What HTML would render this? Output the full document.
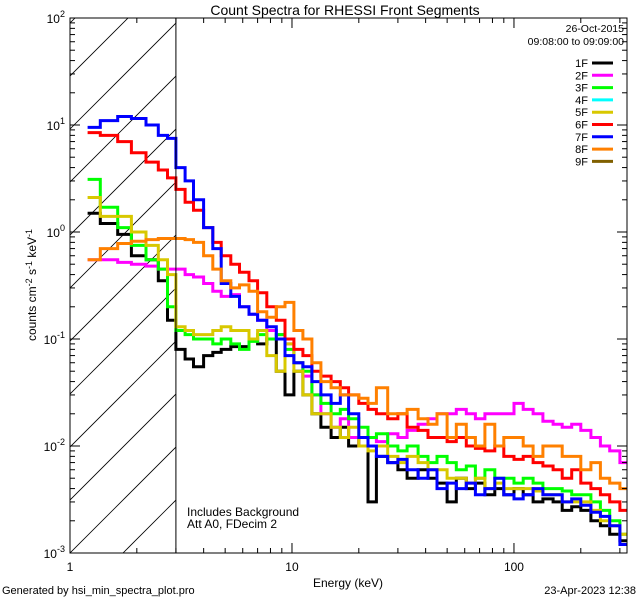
<!DOCTYPE html>
<html><head><meta charset="utf-8"><style>
body{margin:0;background:#fff;}
svg{display:block;font-family:"Liberation Sans",sans-serif;}
</style></head><body>
<svg id="chart" width="640" height="600">
<defs>
<clipPath id="hclip"><rect x="70" y="18" width="106" height="535"/></clipPath>
<clipPath id="pclip"><rect x="70" y="18" width="557" height="535"/></clipPath>
</defs>
<text x="345" y="15" font-size="14" text-anchor="middle">Count Spectra for RHESSI Front Segments</text>
<g id="hatch" clip-path="url(#hclip)"></g>
<g id="series" clip-path="url(#pclip)"></g>
<g id="axes"></g>
<text x="624" y="32" font-size="10.5" text-anchor="end">26-Oct-2015</text>
<text x="624" y="45" font-size="10.5" text-anchor="end">09:08:00 to 09:09:00</text>
<g id="legend"></g>
<text x="187" y="516" font-size="12">Includes Background</text>
<text x="187" y="528" font-size="12">Att A0, FDecim 2</text>
<text x="348" y="587" font-size="12" text-anchor="middle">Energy (keV)</text>
<text transform="translate(36,285) rotate(-90)" font-size="12" text-anchor="middle">counts cm<tspan dy="-4" font-size="9">-2</tspan><tspan dy="4"> s</tspan><tspan dy="-4" font-size="9">-1</tspan><tspan dy="4"> keV</tspan><tspan dy="-4" font-size="9">-1</tspan></text>
<text x="2" y="594" font-size="11">Generated by hsi_min_spectra_plot.pro</text>
<text x="636" y="594" font-size="11" text-anchor="end">23-Apr-2023 12:38</text>
</svg>
<script>
const edges=[1.2,1.37,1.64,1.89,2.2,2.5,2.75,3.0,3.3,3.6,4.0,4.4,4.8,5.3,5.8,6.4,7.0,7.7,8.5,9.3,10.2,11.2,12.3,13.5,15,16.5,18,20,22,24,27,30,33,37,41,45,50,55,61,67,74,82,90,100,110,122,135,150,165,182,200,222,245,270,300,323];
const seriesNames=["1F","2F","3F","4F","5F","6F","7F","8F","9F"];
const seriesColors=["#000000","#ff00ff","#00ff00","#00ffff","#d8c800","#ff0000","#0000ff","#ff8000","#806000"];
const s1F=[1.5,1.2,0.95,0.6,0.55,0.35,0.15,0.08,0.065,0.055,0.07,0.075,0.08,0.085,0.085,0.1,0.09,0.1,0.05,0.03,0.05,0.03,0.02,0.015,0.012,0.015,0.01,0.012,0.003,0.008,0.007,0.006,0.005,0.006,0.005,0.0045,0.003,0.005,0.004,0.0045,0.0035,0.004,0.0035,0.004,0.0035,0.003,0.0032,0.003,0.0025,0.0027,0.0025,0.002,0.0018,0.0015,0.0013];
const s2F=[0.55,0.55,0.52,0.5,0.48,0.45,0.45,0.45,0.4,0.38,0.33,0.28,0.25,0.26,0.2,0.17,0.15,0.12,0.11,0.09,0.06,0.045,0.03,0.02,0.015,0.018,0.012,0.01,0.012,0.011,0.013,0.012,0.014,0.016,0.018,0.02,0.02,0.022,0.02,0.018,0.02,0.02,0.02,0.025,0.022,0.02,0.017,0.016,0.015,0.016,0.014,0.012,0.01,0.009,0.007];
const s3F=[3.1,1.7,1.1,0.75,0.55,0.45,0.2,0.12,0.11,0.1,0.1,0.09,0.1,0.09,0.08,0.095,0.11,0.1,0.11,0.08,0.06,0.05,0.03,0.025,0.02,0.022,0.018,0.015,0.012,0.013,0.01,0.009,0.01,0.008,0.007,0.008,0.007,0.006,0.0065,0.005,0.006,0.005,0.005,0.0045,0.005,0.0045,0.004,0.004,0.0038,0.0035,0.0035,0.003,0.0025,0.002,0.0015];
const s4F=[];
const s5F=[2.1,1.4,1.4,1.0,0.75,0.55,0.4,0.13,0.12,0.11,0.11,0.12,0.13,0.12,0.12,0.1,0.12,0.07,0.05,0.09,0.05,0.03,0.02,0.02,0.015,0.012,0.015,0.01,0.009,0.01,0.008,0.007,0.008,0.007,0.006,0.006,0.005,0.005,0.0045,0.005,0.004,0.0045,0.004,0.004,0.004,0.0038,0.0035,0.0035,0.003,0.003,0.003,0.0025,0.002,0.0018,0.0015];
const s6F=[8.5,8,7,5.5,4.5,3.8,3.2,2.5,1.9,1.6,1.1,0.8,0.6,0.5,0.42,0.35,0.27,0.2,0.15,0.1,0.08,0.07,0.05,0.045,0.04,0.035,0.03,0.025,0.022,0.02,0.018,0.02,0.015,0.014,0.012,0.012,0.011,0.012,0.01,0.0095,0.009,0.01,0.008,0.0075,0.008,0.007,0.0065,0.006,0.005,0.006,0.0045,0.004,0.0035,0.003,0.0025];
const s7F=[9.5,11,12,11.5,10,8,7.5,4,3,2,1.1,0.7,0.33,0.25,0.2,0.17,0.15,0.13,0.1,0.07,0.06,0.055,0.04,0.03,0.025,0.03,0.02,0.012,0.01,0.008,0.007,0.0075,0.006,0.005,0.006,0.004,0.0045,0.004,0.0045,0.0035,0.004,0.005,0.0035,0.0032,0.0035,0.004,0.0035,0.0035,0.003,0.0032,0.0028,0.0024,0.0022,0.0018,0.0012];
const s8F=[0.55,0.7,0.78,0.82,0.85,0.87,0.87,0.87,0.85,0.8,0.6,0.45,0.35,0.3,0.32,0.28,0.18,0.16,0.2,0.22,0.12,0.1,0.06,0.04,0.035,0.03,0.03,0.028,0.025,0.035,0.02,0.02,0.022,0.018,0.016,0.02,0.012,0.016,0.012,0.01,0.016,0.01,0.012,0.012,0.01,0.008,0.01,0.01,0.008,0.008,0.006,0.007,0.005,0.0045,0.004];
const s9F=[];
const allSeries=[s1F,s2F,s3F,s4F,s5F,s6F,s7F,s8F,s9F];
const yTickExps=[-3,-2,-1,0,1,2];
const xTickVals=[1,10,100];
const xTickLabels=["1","10","100"];

const X0=70,X1=627,Y0=18,Y1=553,XMIN=1,XMAX=323,YMIN=-3,YMAX=2;
const NS="http://www.w3.org/2000/svg";
function sx(e){return X0+(Math.log10(e)-Math.log10(XMIN))/(Math.log10(XMAX)-Math.log10(XMIN))*(X1-X0);}
function sy(v){return Y1-(Math.log10(v)-YMIN)/(YMAX-YMIN)*(Y1-Y0);}
function mk(tag,attrs,parent){const el=document.createElementNS(NS,tag);for(const k in attrs)el.setAttribute(k,attrs[k]);parent.appendChild(el);return el;}

const hatch=document.getElementById('hatch');
for(let i=-12;i<12;i++){
  const x=X0+i*53;
  const ln=mk('line',{x1:x,y1:Y1,x2:x+600,y2:Y1-600,stroke:'#000','stroke-width':0.8},hatch);
  
  
}
const vl=mk('line',{x1:sx(3),y1:Y0,x2:sx(3),y2:Y1,stroke:'#000','stroke-width':1},document.getElementById('chart'));



const sg=document.getElementById('series');
allSeries.forEach((vals,si)=>{
  if(!vals.length)return;
  let d='';
  for(let i=0;i<vals.length;i++){
    const xa=sx(edges[i]),xb=sx(edges[i+1]),y=sy(vals[i]);
    d+=(i===0?'M':'L')+xa.toFixed(1)+','+y.toFixed(1)+'L'+xb.toFixed(1)+','+y.toFixed(1);
  }
  const p=mk('path',{d:d,fill:'none',stroke:seriesColors[si],'stroke-width':3,'stroke-linejoin':'miter'},sg);
  
  
});

const ax=document.getElementById('axes');
const frame=mk('rect',{x:X0,y:Y0,width:X1-X0,height:Y1-Y0,fill:'none',stroke:'#000','stroke-width':1},ax);


for(let d=0;d<=2;d++){
  for(let m=1;m<=9;m++){
    const v=m*Math.pow(10,d);if(v>XMAX)continue;
    const x=sx(v),L=m===1?10:5;
    mk('line',{x1:x,y1:Y1,x2:x,y2:Y1-L,stroke:'#000'},ax);
    mk('line',{x1:x,y1:Y0,x2:x,y2:Y0+L,stroke:'#000'},ax);
  }
}
xTickVals.forEach((v,i)=>{
  const t=mk('text',{x:sx(v),y:Y1+18,'font-size':12,'text-anchor':'middle'},ax);
  t.textContent=xTickLabels[i];
  
  
});
yTickExps.forEach(e=>{
  for(let m=1;m<=9;m++){
    const v=m*Math.pow(10,e);if(Math.log10(v)>YMAX+1e-9)continue;
    const y=sy(v),L=m===1?10:5;
    mk('line',{x1:X0,y1:y,x2:X0+L,y2:y,stroke:'#000'},ax);
    mk('line',{x1:X1,y1:y,x2:X1-L,y2:y,stroke:'#000'},ax);
  }
  const t=mk('text',{x:X0-5,y:sy(Math.pow(10,e))+5,'font-size':12,'text-anchor':'end'},ax);
  t.innerHTML='10<tspan dy="-6" font-size="9">'+e+'</tspan>';
  
  
});

const lg=document.getElementById('legend');
seriesNames.forEach((n,i)=>{
  const y=67+i*12.3;
  const t=mk('text',{x:588,y:y,'font-size':11,'text-anchor':'end'},lg);
  t.textContent=n;
  
  
  const l=mk('line',{x1:592,y1:y-4,x2:613,y2:y-4,stroke:seriesColors[i],'stroke-width':3},lg);
  
  
});
</script>
</body></html>
